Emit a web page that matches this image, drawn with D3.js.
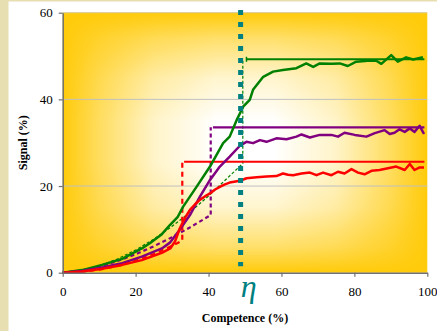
<!DOCTYPE html>
<html><head><meta charset="utf-8">
<script src="https://cdn.jsdelivr.net/npm/d3@7/dist/d3.min.js"></script>
<style>html,body{margin:0;padding:0;background:#fff;overflow:hidden}</style>
</head><body>
<script>
// ---- data ----
const xTicks = [0, 20, 40, 60, 80, 100];
const yTicks = [0, 20, 40, 60];
const eta = 48.8;
const etaSpan = [1.5, 60.6];

const green = [[0,0],[5.3,0.6],[10.8,1.8],[16.3,3.2],[21.7,5.6],[23.9,6.8],[27.2,8.9],[29.4,11.0],[31.5,12.8],[33,15.2],[36.7,19.8],[40.4,24.5],[44,29.9],[45.8,31.4],[47.7,35.2],[49.5,38.3],[51.3,39.9],[52.2,42.2],[55,45.2],[57.7,46.4],[60.4,46.8],[64.1,47.2],[66.8,48.3],[68.7,47.5],[70.5,48.3],[73.7,48.2],[76,48.3],[78.2,47.7],[80.5,48.7],[83.7,48.9],[86,48.9],[87.4,48.2],[90.1,50.2],[91.9,48.7],[94.2,49.7],[96.1,49.2],[98.8,49.7]];
const purple = [[0,0],[5.3,0.4],[10.8,1.2],[16.3,2.2],[21.7,3.7],[27.2,5.6],[29.5,7.0],[32.1,9.9],[34.9,13.3],[37.6,17.5],[40.4,21.4],[43.1,24.5],[45.8,26.8],[48.6,29.3],[50.4,30.2],[52.2,29.9],[54.1,30.6],[55.9,30.2],[58.6,31.0],[61.4,30.8],[64.1,31.4],[65.5,31.9],[67.8,31.2],[70.5,31.8],[73.7,31.8],[75.5,31.4],[77.3,32.3],[80.1,31.8],[83.3,31.4],[85.6,32.2],[88.3,32.9],[89.7,32.0],[91,32.3],[92.4,33.1],[93.8,32.5],[95.2,33.3],[96.5,32.5],[97.9,33.9],[99.1,32.0]];
const red = [[0,0],[5.3,0.3],[10.8,0.9],[16.3,1.8],[21.7,2.9],[27.2,4.6],[29.5,5.6],[30.8,7.2],[32.1,10.2],[33.5,12.6],[34.9,14.5],[36.3,15.8],[37.6,16.8],[39,17.6],[40.4,18.3],[41.8,19.2],[43.1,19.8],[44.5,20.4],[45.8,20.8],[48.6,21.2],[50.4,21.8],[53.2,22.0],[55.9,22.2],[58.6,22.3],[60.4,22.9],[61.8,22.6],[63.2,22.5],[65.5,22.9],[67.8,23.1],[69.6,22.5],[71.4,23.1],[73.7,22.5],[75.5,23.3],[77.3,22.9],[79.2,23.9],[81,23.1],[82.8,22.7],[84.7,23.5],[86.9,23.7],[89.2,24.1],[91.5,24.5],[93.8,23.7],[95.2,25.1],[96.5,23.7],[97.9,24.3],[99.1,24.3]];

// dashed fits ending in vertical jumps
const greenFit = [[0,0],[5,0.47],[10,1.56],[15,3.17],[20,5.25],[25,7.75],[30,10.7],[35,14.0],[40,17.7],[45,21.7],[49.4,25.2],[49.4,49.25]];
const purpleFit = [[0,0],[5,0.46],[10,1.4],[15,2.68],[20,4.25],[25,6.1],[30,8.2],[35,10.5],[40.6,13.3],[40.6,33.55]];
const redFit = [[0,0],[5,0.17],[10,0.69],[15,1.55],[20,2.75],[25,4.3],[30,6.2],[32.8,7.4],[32.8,25.6]];

// plateaus
const greenLevel = [[50.4,49.25],[99.2,49.25]];
const purpleLevel = [[41.2,33.55],[99.2,33.55]];
const redLevel = [[33.3,25.6],[99.2,25.6]];

// ---- drawing ----
const W = 437, H = 331;
const svg = d3.select("body").append("svg").attr("width", W).attr("height", H);
const x = d3.scaleLinear().domain([0,100]).range([62.7, 427.3]);
const y = d3.scaleLinear().domain([0,60]).range([272.7, 12.7]);

// page decor
svg.append("rect").attr("x",0).attr("y",0).attr("width",W).attr("height",H).attr("fill","#fff");
svg.append("rect").attr("x",0).attr("y",0).attr("width",8.5).attr("height",H).attr("fill","#E7DEB2");
svg.append("rect").attr("x",0).attr("y",0).attr("width",W).attr("height",1.5).attr("fill","#E7DEB2");

const defs = svg.append("defs");
const gx = defs.append("linearGradient").attr("id","gx").attr("x1",0).attr("x2",1).attr("y1",0).attr("y2",0);
[[0,0],[0.1,0.35],[0.25,0.78],[0.42,1],[0.58,1],[0.75,0.78],[0.9,0.35],[1,0]].forEach(s=>gx.append("stop").attr("offset",s[0]).attr("stop-color","#fff").attr("stop-opacity",s[1]));
const gy = defs.append("linearGradient").attr("id","gy").attr("x1",0).attr("x2",0).attr("y1",0).attr("y2",1);
[[0,0],[0.1,0.4],[0.25,0.8],[0.42,1],[0.58,1],[0.75,0.8],[0.9,0.4],[1,0]].forEach(s=>gy.append("stop").attr("offset",s[0]).attr("stop-color","#fff").attr("stop-opacity",s[1]));
const px0 = x(0), px1 = x(100), py0 = y(60), py1 = y(0);
const mx = defs.append("mask").attr("id","mx").attr("maskUnits","userSpaceOnUse");
mx.append("rect").attr("x",px0).attr("y",py0).attr("width",px1-px0).attr("height",py1-py0).attr("fill","url(#gx)");
const my = defs.append("mask").attr("id","my").attr("maskUnits","userSpaceOnUse");
my.append("rect").attr("x",px0).attr("y",py0).attr("width",px1-px0).attr("height",py1-py0).attr("fill","url(#gy)");

svg.append("rect").attr("x",px0).attr("y",py0).attr("width",px1-px0).attr("height",py1-py0).attr("fill","#FFCB0A");
svg.append("g").attr("mask","url(#mx)")
  .append("rect").attr("mask","url(#my)").attr("x",px0).attr("y",py0).attr("width",px1-px0).attr("height",py1-py0).attr("fill","#fff");

// gridlines
svg.append("g").selectAll("line").data(yTicks.filter(d=>d>0)).join("line")
  .attr("x1",px0).attr("x2",px1).attr("y1",d=>y(d)).attr("y2",d=>y(d))
  .attr("stroke",d=>d===60?"#D8C89A":"#C0C0C0").attr("stroke-width",1);

const line = d3.line().x(d=>x(d[0])).y(d=>y(d[1]));
const draw = (data, color, w, dash) => {
  const p = svg.append("path").attr("d", line(data)).attr("fill","none")
    .attr("stroke", color).attr("stroke-width", w).attr("stroke-linejoin","round");
  if (dash) p.attr("stroke-dasharray", dash);
  return p;
};

draw(greenFit, "#008000", 1.2, "3,2");
draw(purpleFit, "#800080", 2.2, "4,3");
draw(redFit, "#FF0000", 2.2, "5,4");

draw(greenLevel, "#008000", 2, null);
draw(purpleLevel, "#800080", 2.2, null);
draw(redLevel, "#FF0000", 2.2, null);
svg.append("line").attr("x1",x(greenLevel[0][0])).attr("x2",x(greenLevel[0][0]))
  .attr("y1",y(greenLevel[0][1])-2.5).attr("y2",y(greenLevel[0][1])+2.5).attr("stroke","#008000").attr("stroke-width",1.5);

draw(green, "#008000", 2.5, null);
draw(purple, "#800080", 2.5, null);
draw(red, "#FF0000", 2.5, null);

// eta marker
svg.append("line").attr("x1",x(eta)).attr("x2",x(eta)).attr("y1",y(etaSpan[1])).attr("y2",y(etaSpan[0]))
  .attr("stroke","#008080").attr("stroke-width",5).attr("stroke-dasharray","5,7");

// axes
const ax = svg.append("g").attr("transform",`translate(0,${py1})`)
  .call(d3.axisBottom(x).tickValues(xTicks).tickSize(4).tickSizeOuter(0).tickPadding(10));
const ay = svg.append("g").attr("transform",`translate(${px0},0)`)
  .call(d3.axisLeft(y).tickValues(yTicks).tickSize(4).tickSizeOuter(0).tickPadding(6));
[ax, ay].forEach(a => {
  a.select(".domain").attr("stroke","#707070").attr("stroke-width",1.5);
  a.selectAll(".tick line").attr("stroke","#707070").attr("stroke-width",1.2);
  a.selectAll(".tick text").attr("font-family","'Liberation Serif','Times New Roman',serif")
    .attr("font-size",13).attr("fill","#000");
});

svg.append("text").attr("transform",`translate(27,${(py0+py1)/2}) rotate(-90)`)
  .attr("text-anchor","middle").attr("font-family","'Liberation Serif',serif")
  .attr("font-weight","bold").attr("font-size",12).text("Signal (%)");
svg.append("text").attr("x",245).attr("y",322).attr("text-anchor","middle")
  .attr("font-family","'Liberation Serif',serif").attr("font-weight","bold").attr("font-size",12)
  .text("Competence (%)");
svg.append("text").attr("x",x(eta)+8).attr("y",297).attr("text-anchor","middle")
  .attr("font-family","'Liberation Serif',serif").attr("font-style","italic").attr("font-size",32)
  .attr("fill","#008080").text("η");
</script>
</body></html>
